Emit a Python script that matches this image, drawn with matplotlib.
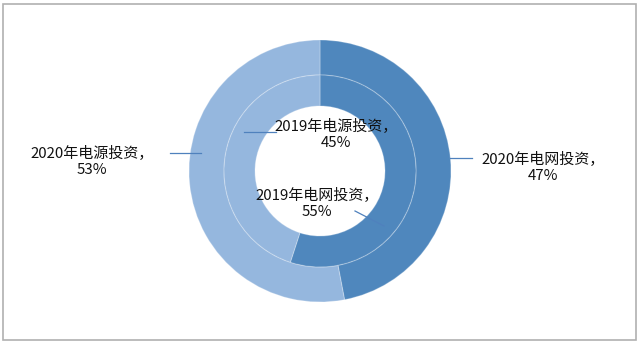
import matplotlib.pyplot as plt
from matplotlib.patches import Rectangle

plt.rcParams['font.family'] = ['Noto Sans CJK SC', 'DejaVu Sans']

# data
outer_labels = ['2020年电网投资', '2020年电源投资']
outer_values = [47, 53]
inner_labels = ['2019年电网投资', '2019年电源投资']
inner_values = [55, 45]
colors = ['#4F87BD', '#95B7DE']

W, H = 640, 345
fig = plt.figure(figsize=(W / 100, H / 100), dpi=100)
ax = fig.add_axes([0, 0, 1, 1])
ax.set_xlim(0, W)
ax.set_ylim(0, H)
ax.set_aspect('equal')
ax.axis('off')

cx, cy = 320, H - 171
r_out, r_mid, r_in = 131, 96, 65
edge = dict(edgecolor=(1, 1, 1, 0.25), linewidth=0.8)

ax.pie(outer_values, colors=colors, radius=r_out, center=(cx, cy),
       startangle=90, counterclock=False,
       wedgeprops=dict(width=r_out - r_mid, **edge))
ax.pie(inner_values, colors=colors, radius=r_mid, center=(cx, cy),
       startangle=90, counterclock=False,
       wedgeprops=dict(width=r_mid - r_in, **edge))
ax.set_xlim(0, W)
ax.set_ylim(0, H)

# labels (image coords: x, y) and leader lines
def lbl(text, val, x, y):
    ax.text(x, H - y, f'{text}，\n{val}%', ha='center', va='center',
            fontsize=10.8, color='#111111', linespacing=1.25)

def leader(x0, y0, x1, y1):
    ax.plot([x0, x1], [H - y0, H - y1], color='#4F81BD', lw=0.9)

lbl(outer_labels[1], outer_values[1], 92, 161)
leader(170, 153, 201, 153)
lbl(outer_labels[0], outer_values[0], 543, 167)
leader(450, 158, 472, 158)
lbl(inner_labels[1], inner_values[1], 336, 134)
leader(244, 132, 276, 132)
lbl(inner_labels[0], inner_values[0], 317, 203)
leader(355, 211, 384, 226)

ax.add_patch(Rectangle((3, H - 340), 633, 336, fill=False,
                       edgecolor='#B0B0B0', lw=1.2))

fig.savefig('out.png', dpi=100, facecolor='white')
